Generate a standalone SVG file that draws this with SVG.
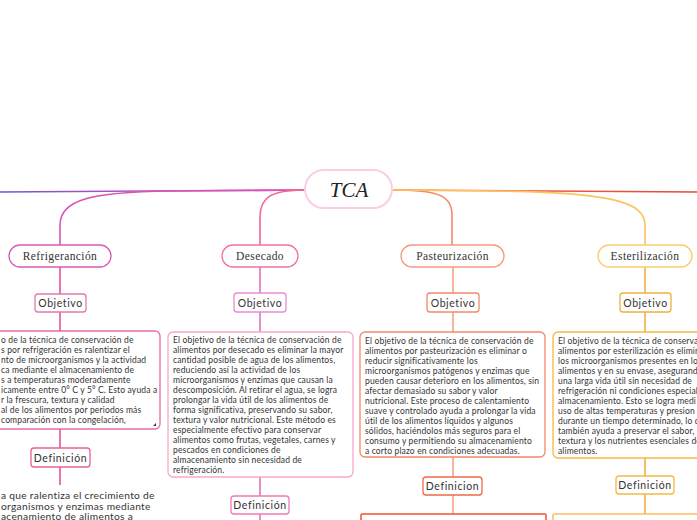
<svg xmlns="http://www.w3.org/2000/svg" width="697" height="520" viewBox="0 0 697 520">
<defs>
<linearGradient id="gl" gradientUnits="userSpaceOnUse" x1="0" y1="0" x2="305" y2="0">
<stop offset="0" stop-color="#6f55d2"/><stop offset="0.5" stop-color="#c052c0"/><stop offset="1" stop-color="#ea5aa0"/>
</linearGradient>
<linearGradient id="gr" gradientUnits="userSpaceOnUse" x1="392" y1="0" x2="697" y2="0">
<stop offset="0" stop-color="#f26a45"/><stop offset="1" stop-color="#e8483c"/>
</linearGradient>
<style>
.c{fill:none;stroke-width:1.6}
.n{fill:#fff;stroke-width:1.3}
.t{font-family:"Liberation Serif",serif;font-size:11.5px;fill:#333;text-anchor:middle;letter-spacing:0.4px}
.o{font-family:"Lato","Liberation Sans",sans-serif;font-size:10.5px;fill:#333;text-anchor:middle;letter-spacing:0.6px}
.b{font-family:"Lato","Liberation Sans",sans-serif;font-size:8.5px;fill:#333;letter-spacing:0.15px}
.d{font-family:"Lato","Liberation Sans",sans-serif;font-size:10.2px;fill:#333;letter-spacing:0.3px}
</style>
</defs>
<g id="connectors">
<path class="c" stroke="url(#gl)" d="M305,190 L0,192"/>
<path class="c" stroke="url(#gr)" d="M392,190 L697,192"/>
<path class="c" stroke="#d653b8" d="M305,190 L170,191 C90,192 60,200 60,225 V245"/>
<path class="c" stroke="#f5678c" d="M305,190 C270,190 260,198 260,217 V245"/>
<path class="c" stroke="#f48a6a" d="M392,190 C440,190 452,196 452,215 V245"/>
<path class="c" stroke="#fdc35e" d="M392,190 L500,191 C612,193 645,202 645,225 V245"/>
<g stroke="#e8509a" stroke-width="1.6">
<line x1="60" y1="267" x2="60" y2="294"/><line x1="60" y1="312" x2="60" y2="331"/>
<line x1="60" y1="429" x2="60" y2="448"/><line x1="60" y1="467" x2="60" y2="485"/>
</g>
<g stroke="#e272c4" stroke-width="1.6">
<line x1="260" y1="267" x2="260" y2="293"/><line x1="260" y1="312" x2="260" y2="332"/>
<line x1="260" y1="477" x2="260" y2="496"/><line x1="260" y1="514" x2="260" y2="520"/>
</g>
<g stroke="#f5a384" stroke-width="1.6">
<line x1="453" y1="267" x2="453" y2="293"/><line x1="453" y1="312" x2="453" y2="332"/>
<line x1="453" y1="457" x2="453" y2="477"/><line x1="453" y1="495" x2="453" y2="514"/>
</g>
<g stroke="#f0b040" stroke-width="1.6">
<line x1="645" y1="267" x2="645" y2="293"/><line x1="645" y1="312" x2="645" y2="332"/>
<line x1="645" y1="458" x2="645" y2="476"/><line x1="645" y1="494" x2="645" y2="514"/>
</g>
</g>
<g id="tca">
<rect x="305" y="170" width="87" height="38" rx="19" fill="#fff" stroke="#fccde6" stroke-width="2"/>
<text x="349" y="197" font-family="'Liberation Serif',serif" font-style="italic" font-size="21" fill="#222" text-anchor="middle">TCA</text>
</g>
<g id="refrigeracion">
<rect class="n" x="9" y="245" width="102" height="22" rx="11" stroke="#dd5bb8"/>
<text class="t" x="60" y="260">Refrigeranción</text>
</g>
<g id="desecado">
<rect class="n" x="222" y="245" width="76" height="22" rx="11" stroke="#f5739a"/>
<text class="t" x="260" y="260">Desecado</text>
</g>
<g id="pasteurizacion">
<rect class="n" x="401" y="245" width="103" height="22" rx="11" stroke="#f59a80"/>
<text class="t" x="452.5" y="260">Pasteurización</text>
</g>
<g id="esterilizacion">
<rect class="n" x="598" y="245" width="94" height="22" rx="11" stroke="#fccb6c"/>
<text class="t" x="645" y="260">Esterilización</text>
</g>
<g id="obj-refrigeracion">
<rect class="n" x="35" y="294" width="51" height="18" rx="3" stroke="#e27aaa"/>
<text class="o" x="60.5" y="307">Objetivo</text>
</g>
<g id="obj-desecado">
<rect class="n" x="234" y="293" width="52" height="19" rx="3" stroke="#ea8ad2"/>
<text class="o" x="260" y="306.5">Objetivo</text>
</g>
<g id="obj-pasteurizacion">
<rect class="n" x="427" y="293" width="52" height="19" rx="3" stroke="#f08a6a"/>
<text class="o" x="453" y="306.5">Objetivo</text>
</g>
<g id="obj-esterilizacion">
<rect class="n" x="620" y="293" width="51" height="19" rx="3" stroke="#f0b040"/>
<text class="o" x="645.5" y="306.5">Objetivo</text>
</g>
<g id="txt-refrigeracion">
<rect class="n" x="-25" y="331" width="185" height="98" rx="5" stroke="#e86aa8"/>
<text class="b" x="1" y="343">
<tspan x="1">o de la técnica de conservación de</tspan>
<tspan x="1" dy="10">s por refrigeración es ralentizar el</tspan>
<tspan x="1" dy="10">nto de microorganismos y la actividad</tspan>
<tspan x="1" dy="10">ca mediante el almacenamiento de</tspan>
<tspan x="1" dy="10">s a temperaturas moderadamente</tspan>
<tspan x="1" dy="10">icamente entre 0° C y 5° C. Esto ayuda a</tspan>
<tspan x="1" dy="10">r la frescura, textura y calidad</tspan>
<tspan x="1" dy="10">al de los alimentos por periodos más</tspan>
<tspan x="1" dy="10">comparación con la congelación,</tspan>
</text>
<path d="M156,423 L156,426 L153,426 Z" fill="#333"/>
</g>
<g id="txt-desecado">
<rect class="n" x="168" y="332" width="185" height="145" rx="5" stroke="#f7a8c8"/>
<text class="b" x="173" y="342.5">
<tspan x="173">El objetivo de la técnica de conservación de</tspan>
<tspan x="173" dy="10">alimentos por desecado es eliminar la mayor</tspan>
<tspan x="173" dy="10">cantidad posible de agua de los alimentos,</tspan>
<tspan x="173" dy="10">reduciendo así la actividad de los</tspan>
<tspan x="173" dy="10">microorganismos y enzimas que causan la</tspan>
<tspan x="173" dy="10">descomposición. Al retirar el agua, se logra</tspan>
<tspan x="173" dy="10">prolongar la vida útil de los alimentos de</tspan>
<tspan x="173" dy="10">forma significativa, preservando su sabor,</tspan>
<tspan x="173" dy="10">textura y valor nutricional. Este método es</tspan>
<tspan x="173" dy="10">especialmente efectivo para conservar</tspan>
<tspan x="173" dy="10">alimentos como frutas, vegetales, carnes y</tspan>
<tspan x="173" dy="10">pescados en condiciones de</tspan>
<tspan x="173" dy="10">almacenamiento sin necesidad de</tspan>
<tspan x="173" dy="10">refrigeración.</tspan>
</text>
</g>
<g id="txt-pasteurizacion">
<rect class="n" x="360" y="332" width="185" height="125" rx="5" stroke="#f4896b"/>
<text class="b" x="365" y="344">
<tspan x="365">El objetivo de la técnica de conservación de</tspan>
<tspan x="365" dy="10">alimentos por pasteurización es eliminar o</tspan>
<tspan x="365" dy="10">reducir significativamente los</tspan>
<tspan x="365" dy="10">microorganismos patógenos y enzimas que</tspan>
<tspan x="365" dy="10">pueden causar deterioro en los alimentos, sin</tspan>
<tspan x="365" dy="10">afectar demasiado su sabor y valor</tspan>
<tspan x="365" dy="10">nutricional. Este proceso de calentamiento</tspan>
<tspan x="365" dy="10">suave y controlado ayuda a prolongar la vida</tspan>
<tspan x="365" dy="10">útil de los alimentos líquidos y algunos</tspan>
<tspan x="365" dy="10">sólidos, haciéndolos más seguros para el</tspan>
<tspan x="365" dy="10">consumo y permitiendo su almacenamiento</tspan>
<tspan x="365" dy="10">a corto plazo en condiciones adecuadas.</tspan>
</text>
</g>
<g id="txt-esterilizacion">
<rect class="n" x="553" y="332" width="185" height="126" rx="5" stroke="#f5b942"/>
<text class="b" x="558" y="344">
<tspan x="558">El objetivo de la técnica de conserva</tspan>
<tspan x="558" dy="10">alimentos por esterilización es elimin</tspan>
<tspan x="558" dy="10">los microorganismos presentes en lo</tspan>
<tspan x="558" dy="10">alimentos y en su envase, asegurand</tspan>
<tspan x="558" dy="10">una larga vida útil sin necesidad de</tspan>
<tspan x="558" dy="10">refrigeración ni condiciones especial</tspan>
<tspan x="558" dy="10">almacenamiento. Esto se logra medi</tspan>
<tspan x="558" dy="10">uso de altas temperaturas y presion</tspan>
<tspan x="558" dy="10">durante un tiempo determinado, lo q</tspan>
<tspan x="558" dy="10">también ayuda a preservar el sabor,</tspan>
<tspan x="558" dy="10">textura y los nutrientes esenciales de</tspan>
<tspan x="558" dy="10">alimentos.</tspan>
</text>
</g>
<g id="def-refrigeracion">
<rect class="n" x="31" y="448" width="59" height="19" rx="3" stroke="#e8609a"/>
<text class="o" x="60.5" y="461.5">Definición</text>
</g>
<g id="def-refrigeracion-txt">
<text class="d" x="1" y="499">
<tspan x="1">a que ralentiza el crecimiento de</tspan>
<tspan x="1" dy="10.5">organismos y enzimas mediante</tspan>
<tspan x="1" dy="10.5">acenamiento de alimentos a</tspan>
</text>
</g>
<g id="def-desecado">
<rect class="n" x="231" y="496" width="58" height="18" rx="3" stroke="#f07ab8"/>
<text class="o" x="260" y="509">Definición</text>
</g>
<g id="def-pasteurizacion">
<rect class="n" x="423" y="477" width="59" height="18" rx="3" stroke="#f06a4a"/>
<text class="o" x="452.5" y="490">Definicion</text>
</g>
<g id="def-esterilizacion">
<rect class="n" x="616" y="476" width="58" height="18" rx="3" stroke="#f5b942"/>
<text class="o" x="645" y="489">Definición</text>
</g>
<g id="def-pasteurizacion-txt">
<rect x="361" y="514" width="185" height="40" rx="1" fill="#fff" stroke="#f0532e" stroke-width="1.5"/>
</g>
<g id="def-esterilizacion-txt">
<rect x="553" y="514" width="185" height="40" rx="1" fill="#fff" stroke="#f8c060" stroke-width="1.5"/>
</g>
</svg>
